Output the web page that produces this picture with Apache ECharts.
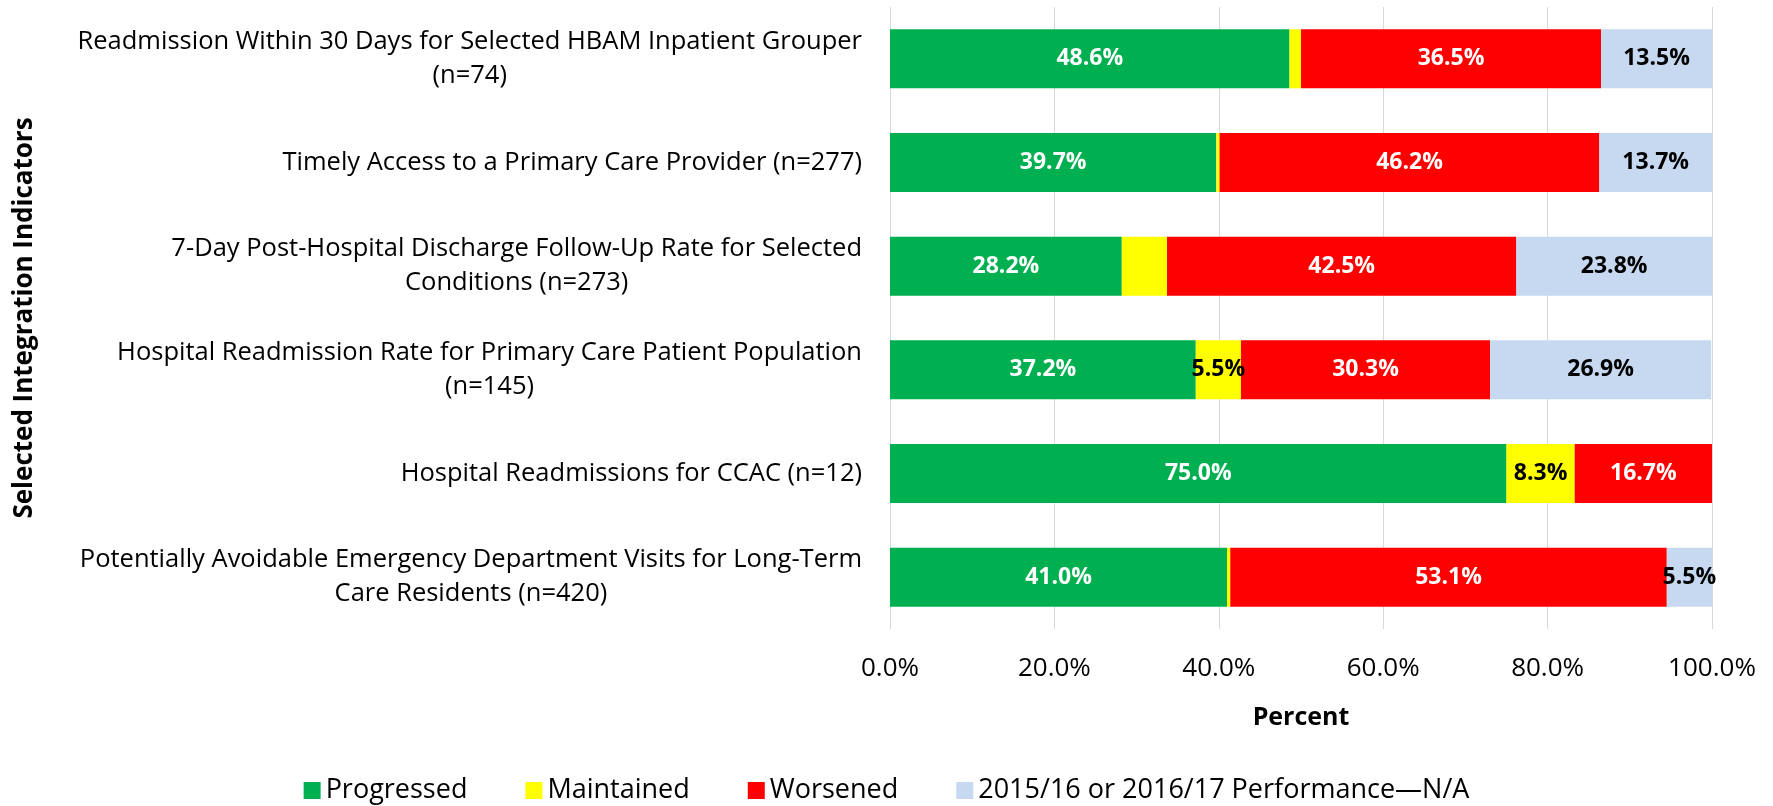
<!DOCTYPE html>
<html>
<head>
<meta charset="utf-8">
<script src="https://cdn.jsdelivr.net/npm/echarts@6/dist/echarts.min.js"></script>
<style>
  html, body { margin: 0; padding: 0; background: #fff; }
  #main { width: 1773px; height: 806px; }
</style>
</head>
<body>
<div id="main"></div>
<script>
var categories = [
    'Readmission Within 30 Days for Selected HBAM Inpatient Grouper\n(n=74)',
    'Timely Access to a Primary Care Provider (n=277)',
    '7-Day Post-Hospital Discharge Follow-Up Rate for Selected\nConditions (n=273)',
    'Hospital Readmission Rate for Primary Care Patient Population\n(n=145)',
    'Hospital Readmissions for CCAC (n=12)',
    'Potentially Avoidable Emergency Department Visits for Long-Term\nCare Residents (n=420)'
];
var progressed = [48.6, 39.7, 28.2, 37.2, 75.0, 41.0];
var maintained = [1.4, 0.4, 5.5, 5.5, 8.3, 0.4];
var worsened = [36.5, 46.2, 42.5, 30.3, 16.7, 53.1];
var notAvailable = [13.5, 13.7, 23.8, 26.9, 0, 5.5];
// which maintained values carry a label in the original
var maintainedLabelShown = [false, false, false, true, true, false];
var xTicks = [0, 20, 40, 60, 80, 100];

var font = 'Open Sans';

function pct(v) { return v.toFixed(1) + '%'; }

function barLabel(color, shownList) {
    return {
        show: true,
        position: 'inside',
        color: color,
        fontFamily: font,
        fontWeight: 'bold',
        fontSize: 23,
        formatter: function (p) {
            if (!p.value) return '';
            if (shownList && !shownList[p.dataIndex]) return '';
            return pct(p.value);
        }
    };
}

var names = ['Progressed', 'Maintained', 'Worsened', '2015/16 or 2016/17 Performance\u2014N/A'];
var colors = ['#00B050', '#FFFF00', '#FF0000', '#C6D9F0'];
var values = [progressed, maintained, worsened, notAvailable];
var labelColors = ['#fff', '#000', '#fff', '#000'];

var series = names.map(function (n, i) {
    return {
        name: n,
        type: 'bar',
        stack: 'total',
        barWidth: 59,
        itemStyle: { color: colors[i] },
        label: barLabel(labelColors[i], i === 1 ? maintainedLabelShown : null),
        data: values[i]
    };
});

var chart = echarts.init(document.getElementById('main'));
chart.setOption({
    animation: false,
    textStyle: { fontFamily: font },
    grid: { left: 890, right: 61, top: 7, bottom: 177, containLabel: false },
    legend: {
        data: names,
        bottom: -3,
        left: 'center',
        itemWidth: 17,
        itemHeight: 17,
        itemGap: 58,
        icon: 'rect',
        textStyle: { fontSize: 27, color: '#000', fontFamily: font }
    },
    xAxis: {
        type: 'value',
        min: xTicks[0],
        max: xTicks[xTicks.length - 1],
        interval: 20,
        name: 'Percent',
        nameLocation: 'middle',
        nameGap: 76,
        nameTextStyle: { fontSize: 25, fontWeight: 'bold', color: '#000', fontFamily: font },
        axisLine: { show: false },
        axisTick: { show: false },
        splitLine: { show: true, lineStyle: { color: '#D9D9D9', width: 1 } },
        axisLabel: {
            fontSize: 26,
            color: '#000',
            margin: 27,
            formatter: function (v) { return pct(v); }
        }
    },
    yAxis: {
        type: 'category',
        inverse: true,
        data: categories,
        name: 'Selected Integration Indicators',
        nameLocation: 'middle',
        nameRotate: 90,
        nameGap: 852,
        nameTextStyle: { fontSize: 26, fontWeight: 'bold', color: '#000', fontFamily: font },
        axisLine: { show: false },
        axisTick: { show: false },
        axisLabel: {
            margin: 28,
            align: 'right',
            formatter: function (v) {
                return v.split('\n').map(function (l) { return '{c|' + l + '}'; }).join('\n');
            },
            rich: {
                c: { align: 'center', fontSize: 25.5, color: '#000', lineHeight: 34, fontFamily: font }
            }
        }
    },
    series: series
});
</script>
</body>
</html>
